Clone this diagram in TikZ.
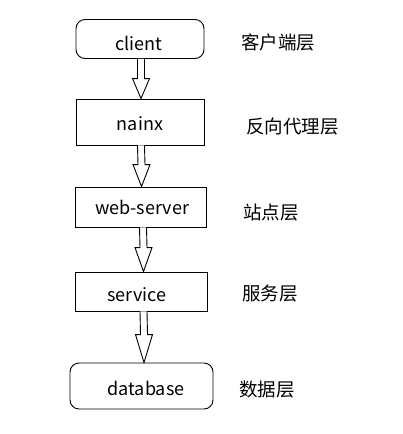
\documentclass[tikz,border=0pt]{standalone}
\usepackage{fontspec}
\setmainfont{Noto Sans CJK SC}
\usetikzlibrary{calc}
\tikzset{
  box/.style={draw, line width=0.9pt, inner sep=0pt},
  term/.style={box, rounded corners=9pt},
  txt/.style={font=\fontsize{18}{20}\selectfont, inner sep=0pt},
  layer/.style={anchor=west, inner sep=0pt, font=\fontsize{18.5}{20}\selectfont},
  blockarr/.style={draw, line width=0.9pt, fill=white, line join=miter},
}
\newcommand{\blk}[4]{%
  \draw[blockarr] ($(#1.south)+(#3-3.5,0)$) -- ($(#2.north)+(#3-3.5,-#4)$)
    -- ($(#2.north)+(#3-8.5,-#4)$) -- ($(#2.north)+(#3,0)$)
    -- ($(#2.north)+(#3+8.5,-#4)$) -- ($(#2.north)+(#3+3.5,-#4)$)
    -- ($(#1.south)+(#3+3.5,0)$);}
\begin{document}
\begin{tikzpicture}[x=1pt,y=-1pt]
\useasboundingbox (0,0) rectangle (402,434);
\node[term, minimum width=128pt, minimum height=39pt] (client) at (140,39) {};
\node[box, minimum width=128pt, minimum height=46pt] (nginx) at (140,122) {};
\node[box, minimum width=131pt, minimum height=40pt] (web) at (140.5,207) {};
\node[box, minimum width=132pt, minimum height=39pt] (service) at (141,291.5) {};
\node[term, minimum width=143pt, minimum height=46pt] (db) at (141.5,386) {};
\node[txt] (tclient) at (139,43) {client};
\node[txt] (tnginx) at (140,124) {nainx};
\node[txt] (tweb) at (142,207) {web-server};
\node[txt] (tservice) at (137,295) {service};
\node[txt] (tdb) at (146,388) {database};
\blk{client}{nginx}{1}{20}
\blk{nginx}{web}{1}{22}
\blk{web}{service}{2.5}{24}
\blk{service}{db}{2.5}{28}
\node[layer] (l1) at (241,42) {客户端层};
\node[layer] (l2) at (246,127) {反向代理层};
\node[layer] (l3) at (243,213) {站点层};
\node[layer] (l4) at (242,294) {服务层};
\node[layer] (l5) at (239,390) {数据层};
\end{tikzpicture}
\end{document}
